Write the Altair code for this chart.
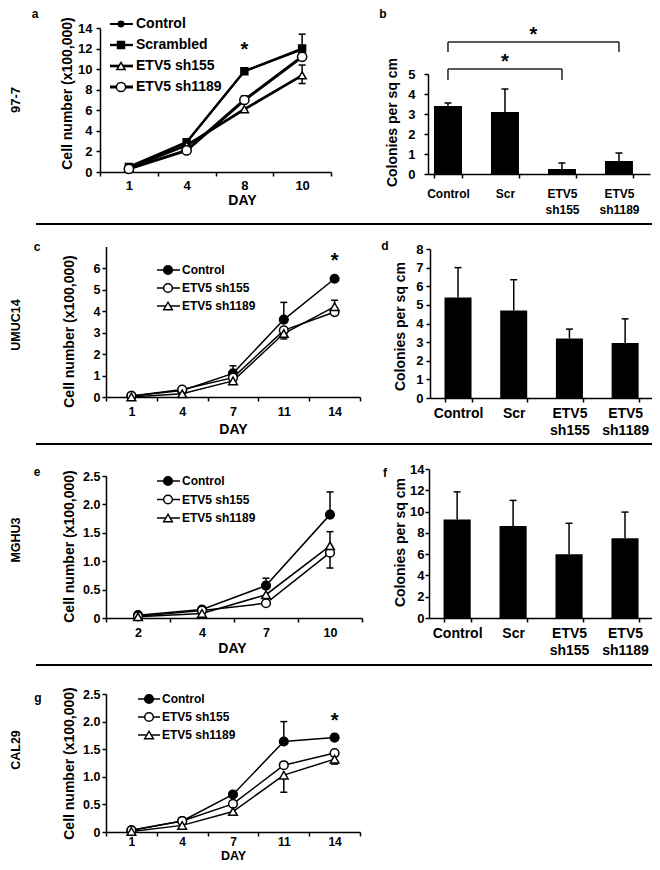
import altair as alt
import pandas as pd

FONT = "Liberation Sans"
MARGIN = 8
W, H = 644, 854


def g(v):
    """page pixel -> chart pixel"""
    return v - MARGIN


# ---------------- data ----------------
a_days = [1, 4, 8, 10]
a_names = ["Control", "Scrambled", "ETV5 sh155", "ETV5 sh1189"]
a_control = [0.4, 2.9, 9.8, 11.9]
a_scrambled = [0.5, 2.9, 9.8, 12.0]
a_sh155 = [0.4, 2.6, 6.1, 9.4]
a_sh1189 = [0.3, 2.1, 7.0, 11.2]
a_err_series = ["Scrambled", "ETV5 sh155", "ETV5 sh155", "ETV5 sh1189"]
a_err_day = [10, 10, 10, 8]
a_err_end = [13.4, 8.6, 10.4, 7.4]
a_star = (8, 12.35)

bar_groups = ["Control", "Scr", "ETV5 sh155", "ETV5 sh1189"]
b_values = [3.4, 3.1, 0.25, 0.65]
b_err = [3.55, 4.25, 0.55, 1.05]
b_bracket_from = ["Control", "Control"]
b_bracket_to = ["ETV5 sh155", "ETV5 sh1189"]
b_bracket_level = [5.25, 6.6]
b_bracket_drop = [4.7, 6.1]
b_star_level = [5.85, 7.2]

c_days = [1, 4, 7, 11, 14]
cg_names = ["Control", "ETV5 sh155", "ETV5 sh1189"]
c_control = [0.05, 0.3, 1.1, 3.6, 5.5]
c_sh155 = [0.05, 0.35, 0.9, 3.1, 3.95]
c_sh1189 = [0.0, 0.15, 0.75, 2.95, 4.2]
c_err_series = ["Control", "Control", "ETV5 sh1189", "ETV5 sh1189"]
c_err_day = [7, 11, 11, 14]
c_err_end = [1.45, 4.4, 2.7, 4.5]
c_star = (14, 6.56)

d_values = [5.4, 4.7, 3.2, 2.95]
d_err = [7.0, 6.35, 3.7, 4.25]

e_days = [2, 4, 7, 10]
e_control = [0.05, 0.15, 0.57, 1.82]
e_sh155 = [0.03, 0.13, 0.26, 1.15]
e_sh1189 = [0.02, 0.08, 0.41, 1.27]
e_err_series = ["Control", "Control", "ETV5 sh155", "ETV5 sh1189"]
e_err_day = [7, 10, 10, 10]
e_err_end = [0.7, 2.22, 0.88, 1.52]

f_values = [9.25, 8.65, 6.0, 7.5]
f_err = [11.85, 11.05, 8.9, 9.95]

g_days = [1, 4, 7, 11, 14]
g_control = [0.03, 0.2, 0.68, 1.64, 1.71]
g_sh155 = [0.03, 0.2, 0.51, 1.21, 1.43]
g_sh1189 = [0.01, 0.12, 0.37, 1.03, 1.32]
g_err_series = ["Control", "Control", "ETV5 sh1189", "ETV5 sh1189"]
g_err_day = [11, 14, 11, 14]
g_err_end = [2.0, 1.77, 0.72, 1.23]
g_star = (14, 2.11)

# ---------------- styles ----------------
A_SHAPES = ["circle", "square", "triangle-up", "circle"]
A_FILLS = ["black", "black", "white", "white"]
A_SIZES = [30, 85, 70, 75]
A_WIDTHS = [2, 3, 1.5, 1.5]
C_SHAPES = ["circle", "circle", "triangle-up"]
C_FILLS = ["black", "white", "white"]
C_SIZES = [75, 75, 70]
C_WIDTHS = [1.5, 1.5, 1.5]

DUMMY = pd.DataFrame({"k": [0]})
ONE_DEC = "datum.value == 0 ? '0' : format(datum.value, '.1f')"


def ts(size, **kw):
    return dict(font=FONT, fontWeight="bold", fontSize=size, color="black", **kw)


def style_enc(names, shapes, fills, sizes):
    return dict(
        shape=alt.Shape("series:N", scale=alt.Scale(domain=names, range=shapes), legend=None),
        fill=alt.Fill("series:N", scale=alt.Scale(domain=names, range=fills), legend=None),
        size=alt.Size("series:N", scale=alt.Scale(domain=names, range=sizes), legend=None),
    )


def line_panel(days, names, series_vals, err_s, err_d, err_e, shapes, fills, sizes, widths,
               xr, yr, ydom, yticks, yfmt, ytitle, xtitle, xlab_pad, ylab_pad, lab_fs,
               xtitle_fs=14, xlab_fs=None, star=None):
    rows = [{"day": d, "series": s, "value": v}
            for s, vals in zip(names, series_vals) for d, v in zip(days, vals)]
    df = pd.DataFrame(rows)
    lookup = {(r["series"], r["day"]): r["value"] for r in rows}
    edf = pd.DataFrame({"series": err_s, "day": err_d, "end": err_e,
                        "value": [lookup[(s, d)] for s, d in zip(err_s, err_d)]})

    def xs():
        return alt.Scale(type="band", domain=days, range=[g(xr[0]), g(xr[1])],
                         paddingInner=0, paddingOuter=0)

    def ys():
        return alt.Scale(domain=ydom, range=[g(yr[0]), g(yr[1])], nice=False, zero=False)

    xaxis = alt.Axis(orient="bottom", offset=g(yr[0]) - H, tickBand="extent", labelAngle=0,
                     labelFontSize=xlab_fs or lab_fs, labelPadding=xlab_pad, title="DAY",
                     titleFontSize=xtitle_fs, titleX=g(xtitle[0]), titleY=xtitle[1] - yr[0],
                     titleAlign="center", titleBaseline="middle")
    ykw = dict(orient="left", offset=-g(xr[0]), values=yticks, labelFontSize=lab_fs,
               labelPadding=ylab_pad, title="Cell number (x100,000)", titleFontSize=14,
               titleX=ytitle[0] - xr[0], titleY=g(ytitle[1]), titleAlign="center",
               titleBaseline="middle", titleAngle=270)
    if yfmt:
        ykw["labelExpr"] = yfmt

    def Xn():
        return alt.X("day:O", scale=xs(), axis=None)

    def Yn(field="value"):
        return alt.Y(f"{field}:Q", scale=ys(), axis=None)

    axes_layer = alt.Chart(df).mark_line(color="black", opacity=0).encode(
        x=alt.X("day:O", scale=xs(), axis=xaxis),
        y=alt.Y("value:Q", scale=ys(), axis=alt.Axis(**ykw)),
        detail="series:N")
    lines = alt.Chart(df).mark_line(color="black").encode(
        x=Xn(), y=Yn(), detail="series:N",
        strokeWidth=alt.StrokeWidth("series:N", scale=alt.Scale(domain=names, range=widths), legend=None))
    erule = alt.Chart(edf).mark_rule(color="black", strokeWidth=1.5).encode(x=Xn(), y=Yn(), y2="end:Q")
    ecap = alt.Chart(edf).mark_tick(color="black", thickness=1.5, size=7, opacity=1).encode(
        x=Xn(), y=Yn("end"))
    pts = alt.Chart(df).mark_point(filled=True, stroke="black", strokeWidth=1.5, opacity=1).encode(
        x=Xn(), y=Yn(), **style_enc(names, shapes, fills, sizes))
    layers = [axes_layer, lines, erule, ecap, pts]
    if star:
        sdf = pd.DataFrame({"day": [star[0]], "value": [star[1]]})
        layers.append(alt.Chart(sdf).mark_text(text="*", baseline="alphabetic", dy=11, **ts(20))
                      .encode(x=Xn(), y=Yn()))
    return layers


def legend_panel(names, shapes, fills, sizes, widths, yrow, x0, x1, xm, xt, fs):
    ldf = pd.DataFrame({"series": names})

    def Y():
        return alt.Y("series:N", scale=alt.Scale(type="point", domain=names,
                                                 range=[g(yrow[0]), g(yrow[1])], padding=0), axis=None)
    rule = alt.Chart(ldf).mark_rule(color="black").encode(
        x=alt.value(g(x0)), x2=alt.value(g(x1)), y=Y(),
        strokeWidth=alt.StrokeWidth("series:N", scale=alt.Scale(domain=names, range=widths), legend=None))
    pts = alt.Chart(ldf).mark_point(filled=True, stroke="black", strokeWidth=1.5, opacity=1).encode(
        x=alt.value(g(xm)), y=Y(), **style_enc(names, shapes, fills, sizes))
    txt = alt.Chart(ldf).mark_text(align="left", baseline="middle", **ts(fs)).encode(
        x=alt.value(g(xt)), y=Y(), text="series:N")
    return [rule, pts, txt]


def bar_panel(values, errs, xr, pi, po, al, yr, ydom, yticks, ytitle, xlab_pad, ylab_pad,
              xlab_fs, ylab_fs, line_h, brackets=False):
    df = pd.DataFrame({"group": bar_groups, "value": values, "err": errs})

    def xs():
        return alt.Scale(type="band", domain=bar_groups, range=[g(xr[0]), g(xr[1])],
                         paddingInner=pi, paddingOuter=po, align=al)

    def ys():
        return alt.Scale(domain=ydom, range=[g(yr[0]), g(yr[1])], nice=False, zero=False)

    xaxis = alt.Axis(orient="bottom", offset=g(yr[0]) - H, tickBand="extent", labelAngle=0,
                     labelFontSize=xlab_fs, labelPadding=xlab_pad, labelLineHeight=line_h,
                     labelExpr="split(datum.label, ' ')", title=None)
    yaxis = alt.Axis(orient="left", offset=-g(xr[0]), values=yticks, labelFontSize=ylab_fs,
                     labelPadding=ylab_pad, title="Colonies per sq cm", titleFontSize=14,
                     titleX=ytitle[0] - xr[0], titleY=g(ytitle[1]), titleAlign="center",
                     titleBaseline="middle", titleAngle=270)

    def Xn(field="group"):
        return alt.X(f"{field}:N", scale=xs(), axis=None)

    def Yn(field="value"):
        return alt.Y(f"{field}:Q", scale=ys(), axis=None)

    bars = alt.Chart(df).mark_bar(color="black").encode(
        x=alt.X("group:N", scale=xs(), axis=xaxis), y=alt.Y("value:Q", scale=ys(), axis=yaxis))
    erule = alt.Chart(df).mark_rule(color="black", strokeWidth=1.5).encode(x=Xn(), y=Yn(), y2="err:Q")
    ecap = alt.Chart(df).mark_tick(color="black", thickness=1.5, size=7, opacity=1).encode(
        x=Xn(), y=Yn("err"))
    layers = [bars, erule, ecap]
    if brackets:
        hdf = pd.DataFrame({"a": b_bracket_from, "b": b_bracket_to, "level": b_bracket_level})
        layers.append(alt.Chart(hdf).mark_rule(color="#222", strokeWidth=1.5).encode(
            x=Xn("a"), x2="b:N", y=Yn("level")))
        vdf = pd.DataFrame({
            "group": b_bracket_from + b_bracket_to,
            "level": b_bracket_level + b_bracket_level,
            "drop": b_bracket_drop + b_bracket_drop,
        })
        layers.append(alt.Chart(vdf).mark_rule(color="#222", strokeWidth=1.5).encode(
            x=Xn(), y=Yn("level"), y2="drop:Q"))
        s1 = pd.DataFrame({"group": ["Scr"], "value": [b_star_level[0]]})
        s2 = pd.DataFrame({"group": ["Scr"], "value": [b_star_level[1]]})
        layers.append(alt.Chart(s1).mark_text(text="*", baseline="alphabetic", dy=11, **ts(20))
                      .encode(x=Xn(), y=Yn()))
        layers.append(alt.Chart(s2).mark_text(text="*", baseline="alphabetic", dy=11, dx=28.5, **ts(20))
                      .encode(x=Xn(), y=Yn()))
    return layers


def label(txt, x, y, fs, angle=0):
    return alt.Chart(DUMMY).mark_text(text=txt, align="center", baseline="middle", angle=angle,
                                      **ts(fs)).encode(x=alt.value(g(x)), y=alt.value(g(y)))


def separator(y):
    return alt.Chart(DUMMY).mark_rule(color="black", strokeWidth=2).encode(
        x=alt.value(g(36)), x2=alt.value(g(657)), y=alt.value(g(y)))


# ---------------- panels ----------------
layers = []
layers += line_panel(a_days, a_names, [a_control, a_scrambled, a_sh155, a_sh1189],
                     a_err_series, a_err_day, a_err_end, A_SHAPES, A_FILLS, A_SIZES, A_WIDTHS,
                     xr=(100, 331), yr=(172, 28), ydom=[0, 14], yticks=list(range(0, 15, 2)),
                     yfmt=None, ytitle=(67, 93), xtitle=(242, 200), xlab_pad=3, ylab_pad=4,
                     lab_fs=13, star=a_star)
layers += legend_panel(a_names, A_SHAPES, A_FILLS, A_SIZES, A_WIDTHS, (24, 87), 110, 133, 121, 136, 14)

layers += bar_panel(b_values, b_err, xr=(428, 650), pi=0.509, po=0.202, al=0.26, yr=(174, 74),
                    ydom=[0, 5], yticks=[0, 1, 2, 3, 4, 5], ytitle=(392, 122), xlab_pad=10,
                    ylab_pad=9, xlab_fs=12, ylab_fs=13, line_h=16, brackets=True)

layers += line_panel(c_days, cg_names, [c_control, c_sh155, c_sh1189],
                     c_err_series, c_err_day, c_err_end, C_SHAPES, C_FILLS, C_SIZES, C_WIDTHS,
                     xr=(106, 360), yr=(397, 246.5), ydom=[0, 7], yticks=[0, 1, 2, 3, 4, 5, 6],
                     yfmt=None, ytitle=(69, 331), xtitle=(233, 429), xlab_pad=4, ylab_pad=2,
                     lab_fs=12.5, star=c_star)
layers += legend_panel(cg_names, C_SHAPES, C_FILLS, C_SIZES, C_WIDTHS, (270, 306), 157, 180, 168, 182, 12)

layers += bar_panel(d_values, d_err, xr=(430, 655), pi=0.515, po=0.277, al=0.47, yr=(398, 249),
                    ydom=[0, 8], yticks=list(range(0, 9)), ytitle=(400, 326), xlab_pad=4,
                    ylab_pad=3, xlab_fs=14, ylab_fs=13, line_h=17)

layers += line_panel(e_days, cg_names, [e_control, e_sh155, e_sh1189],
                     e_err_series, e_err_day, e_err_end, C_SHAPES, C_FILLS, C_SIZES, C_WIDTHS,
                     xr=(106, 362), yr=(618, 476), ydom=[0, 2.5], yticks=[0, 0.5, 1.0, 1.5, 2.0, 2.5],
                     yfmt=ONE_DEC, ytitle=(69, 546), xtitle=(232, 648), xlab_pad=4, ylab_pad=2,
                     lab_fs=12.5)
layers += legend_panel(cg_names, C_SHAPES, C_FILLS, C_SIZES, C_WIDTHS, (481, 518), 157, 180, 168, 182, 12)

layers += bar_panel(f_values, f_err, xr=(429, 655), pi=0.515, po=0.277, al=0.47, yr=(618, 469),
                    ydom=[0, 14], yticks=list(range(0, 15, 2)), ytitle=(400, 542), xlab_pad=4,
                    ylab_pad=1, xlab_fs=14, ylab_fs=13, line_h=17)

layers += line_panel(g_days, cg_names, [g_control, g_sh155, g_sh1189],
                     g_err_series, g_err_day, g_err_end, C_SHAPES, C_FILLS, C_SIZES, C_WIDTHS,
                     xr=(106, 360), yr=(832, 694), ydom=[0, 2.5], yticks=[0, 0.5, 1.0, 1.5, 2.0, 2.5],
                     yfmt=ONE_DEC, ytitle=(69, 763), xtitle=(233, 855.5), xlab_pad=0, ylab_pad=2,
                     lab_fs=12.5, xlab_fs=12, xtitle_fs=12.5, star=g_star)
layers += legend_panel(cg_names, C_SHAPES, C_FILLS, C_SIZES, C_WIDTHS, (699, 735), 138, 160, 149, 162, 12)

layers += [
    label("a", 35, 14, 12), label("b", 383, 14, 12), label("c", 37, 247, 12),
    label("d", 385, 246, 12), label("e", 37, 472, 12), label("f", 385, 473, 12),
    label("g", 38, 698, 12),
    label("97-7", 16, 100, 13, angle=270), label("UMUC14", 16, 325, 12.5, angle=270),
    label("MGHU3", 16, 540, 12.5, angle=270), label("CAL29", 16, 750, 12.5, angle=270),
    separator(224), separator(444), separator(665),
]

chart = alt.layer(*layers).resolve_scale(
    x="independent", y="independent", shape="independent", fill="independent",
    size="independent", strokeWidth="independent"
).properties(
    width=W, height=H, padding=0, autosize=alt.AutoSizeParams(type="none")
).configure_view(stroke=None).configure_axis(
    labelFont=FONT, labelFontWeight="bold", labelColor="black",
    titleFont=FONT, titleFontWeight="bold", titleColor="black",
    domainColor="black", tickColor="black", domainWidth=1.5, tickWidth=1.5, tickSize=4, grid=False
)

chart.save("out.html", embed_options={"renderer": "svg", "actions": False})
